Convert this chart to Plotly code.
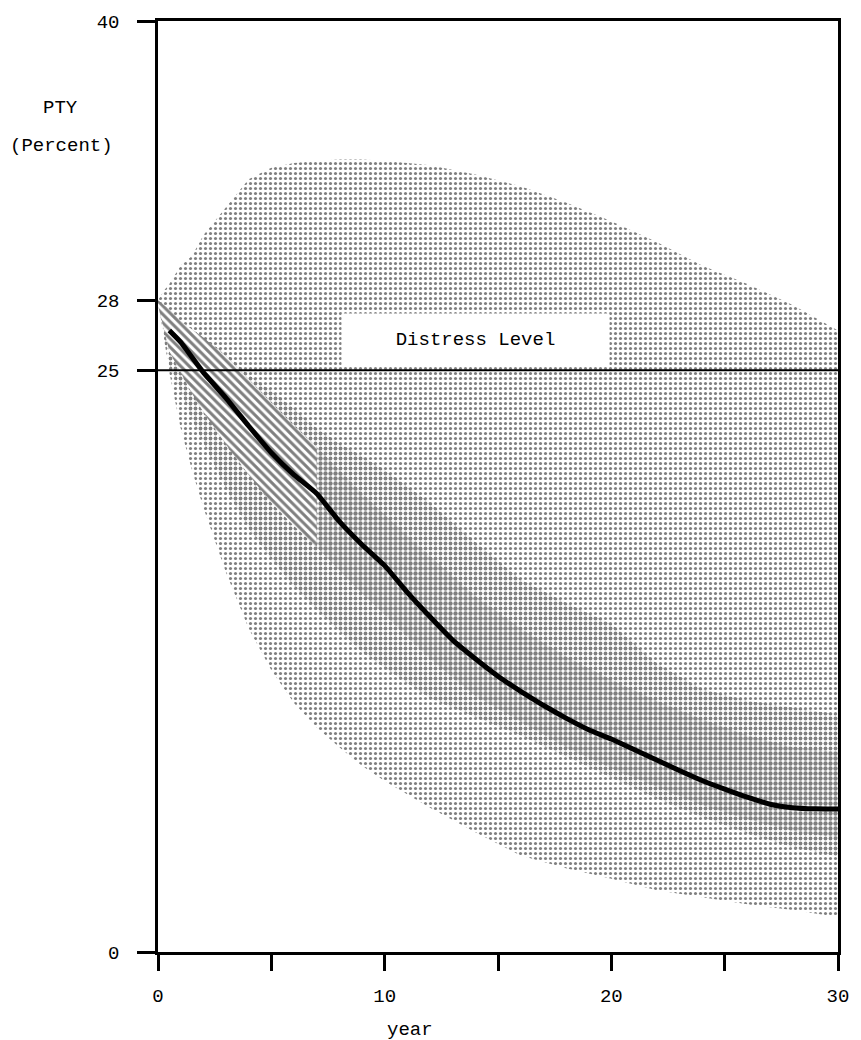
import plotly.graph_objects as go

# Projection years shared by the band boundaries
years = [0, 0.25, 0.5, 1, 1.5, 2, 3, 4, 5, 6, 7, 8, 9, 10,
         12, 14, 16, 18, 20, 22, 24, 26, 28, 30]

# Outer envelope (light screen)
outer_hi = [28.0, 28.4, 28.7, 29.5, 29.9, 30.8, 32.0, 33.2, 33.7, 33.9, 34.0, 34.05, 34.05, 34.0,
            33.8, 33.4, 32.9, 32.2, 31.4, 30.5, 29.5, 28.7, 27.8, 26.7]
outer_lo = [28.0, 26.4, 24.9, 22.5, 20.7, 19.1, 16.3, 13.9, 12.1, 10.7, 9.65, 8.8, 8.0, 7.35,
            6.2, 5.15, 4.15, 3.6, 3.15, 2.65, 2.35, 2.05, 1.8, 1.5]

# Middle band (medium screen)
mid_hi = [28.0, 27.8, 27.6, 27.1, 26.75, 26.4, 25.7, 24.8, 24.1, 23.35, 22.5, 21.85, 21.3, 20.7,
          19.3, 17.6, 16.0, 15.0, 14.1, 12.4, 11.3, 10.8, 10.5, 10.2]
mid_lo = [28.0, 26.6, 25.2, 24.1, 22.9, 21.9, 19.9, 18.2, 16.9, 15.7, 14.7, 13.8, 12.9, 12.2,
          10.9, 10.1, 9.3, 8.4, 7.5, 6.6, 5.8, 5.1, 4.5, 4.1]

# Inner band (dark screen, hatched in the early years)
inner_hi = [28.0, 27.8, 27.6, 27.1, 26.75, 26.4, 25.6, 24.6, 23.6, 22.6, 21.7, 20.7, 19.7, 18.8,
            17.0, 15.3, 13.9, 12.7, 11.7, 10.8, 10.0, 9.3, 8.8, 8.6]
inner_lo = [27.8, 26.8, 25.8, 24.9, 24.0, 23.2, 21.8, 20.5, 19.3, 18.3, 17.4, 16.4, 15.4, 14.5,
            12.6, 11.0, 9.9, 8.8, 7.9, 7.1, 6.3, 5.7, 5.2, 4.9]
hatch_until = 7

# Mean PTY path
mean_years = [0.5, 1, 2, 3, 4, 5, 6, 7, 8, 9, 10, 11, 12, 13, 14, 15, 16, 17, 18, 19, 20,
              21, 22, 23, 24, 25, 26, 27, 28, 29, 30]
mean_pty = [26.7, 26.2, 24.9, 23.8, 22.6, 21.45, 20.5, 19.7, 18.5, 17.5, 16.6, 15.45, 14.4,
            13.4, 12.6, 11.85, 11.2, 10.6, 10.05, 9.55, 9.15, 8.7, 8.25, 7.8, 7.37, 7.0,
            6.65, 6.35, 6.2, 6.15, 6.14]

distress_level = 25

x_ticks = [0, 5, 10, 15, 20, 25, 30]
x_tick_text = ["0", "", "10", "", "20", "", "30"]
y_ticks = [0, 25, 28, 40]
y_tick_text = ["0", "25", "28", "40"]

FONT = "Liberation Mono"


def band_polygon(xs, lo, hi):
    return list(xs) + list(xs)[::-1], list(hi) + list(lo)[::-1]


def band_trace(xs, lo, hi, pattern):
    px, py = band_polygon(xs, lo, hi)
    return go.Scatter(x=px, y=py, mode="lines", fill="toself",
                      line=dict(width=0, color="rgba(0,0,0,0)"),
                      fillcolor="white", fillpattern=pattern,
                      hoverinfo="skip", showlegend=False)


fig = go.Figure()

fig.add_trace(band_trace(years, outer_lo, outer_hi,
                         dict(shape=".", fgcolor="black", bgcolor="white", size=5, solidity=0.3)))
fig.add_trace(band_trace(years, mid_lo, mid_hi,
                         dict(shape=".", fgcolor="black", bgcolor="white", size=5, solidity=0.45)))
fig.add_trace(band_trace(years, inner_lo, inner_hi,
                         dict(shape=".", fgcolor="black", bgcolor="white", size=5, solidity=0.6)))

# early part of the inner band is line-hatched
n_h = sum(1 for y in years if y <= hatch_until)
fig.add_trace(band_trace(years[:n_h], inner_lo[:n_h], inner_hi[:n_h],
                         dict(shape="\\", fgcolor="black", bgcolor="white", size=6, solidity=0.5)))

fig.add_trace(go.Scatter(x=mean_years, y=mean_pty, mode="lines",
                         line=dict(color="black", width=5, shape="spline", smoothing=0.4),
                         hoverinfo="skip", showlegend=False))

fig.add_shape(type="line", xref="x", yref="y", x0=0, x1=30,
              y0=distress_level, y1=distress_level,
              line=dict(color="black", width=2))

fig.add_annotation(x=14.0, y=26.3, xref="x", yref="y", text="Distress Level",
                   showarrow=False, bgcolor="white", width=265, height=50,
                   font=dict(family=FONT, size=19, color="black"))

fig.add_annotation(x=-0.143, y=36.27, xref="paper", yref="y", text="PTY",
                   showarrow=False, xanchor="center",
                   font=dict(family=FONT, size=19, color="black"))
fig.add_annotation(x=-0.142, y=34.64, xref="paper", yref="y", text="(Percent)",
                   showarrow=False, xanchor="center",
                   font=dict(family=FONT, size=19, color="black"))
fig.add_annotation(x=11.1, y=-0.084, xref="x", yref="paper", text="year",
                   showarrow=False, yanchor="middle",
                   font=dict(family=FONT, size=19, color="black"))

axis_common = dict(showline=True, linecolor="black", linewidth=2.5, mirror=True,
                   ticks="outside", tickcolor="black", tickwidth=2.5,
                   showgrid=False, zeroline=False)

fig.update_xaxes(range=[0, 30], tickvals=x_ticks, ticktext=x_tick_text, ticklen=16,
                 ticklabelstandoff=8,
                 tickfont=dict(family=FONT, size=19, color="black"), **axis_common)
fig.update_yaxes(range=[0, 40], tickvals=y_ticks, ticktext=y_tick_text, ticklen=18,
                 ticklabelstandoff=14,
                 tickfont=dict(family=FONT, size=19, color="black"), **axis_common)

fig.update_layout(width=861, height=1040,
                  margin=dict(l=158, r=18, t=20, b=88),
                  paper_bgcolor="white", plot_bgcolor="white",
                  font=dict(family=FONT, color="black"),
                  showlegend=False)

fig.write_html("out.html")
